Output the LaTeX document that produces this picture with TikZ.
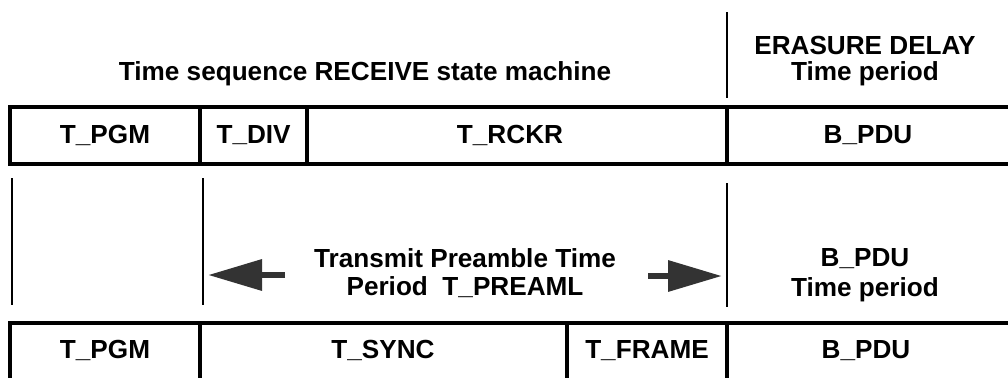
\documentclass[tikz,border=0pt]{standalone}
\usepackage{fontspec}
\setmainfont{Liberation Sans}
\usetikzlibrary{arrows.meta}
\newcommand\usc{\raisebox{0.12ex}{\_}}
\tikzset{
  cell/.style={font=\bfseries\fontsize{18.6}{18.6}\selectfont},
  heading/.style={font=\bfseries\fontsize{18.6}{18}\selectfont, align=center},
  frame/.style={line width=2.6pt},
  marker/.style={line width=1.4pt},
  bigarrow/.style={line width=4.6pt, -{Triangle[length=1.35cm,width=0.75cm]}}
}

\begin{document}
\begin{tikzpicture}
		%%%%% START %%%%%
		\useasboundingbox (0,0) rectangle (25.2,9.425);
		
		% receive row
		\draw[frame] (25.4,6.75) -- (0.25,6.75) -- (0.25,5.325) -- (25.4,5.325);
		\draw[frame] (5,6.75) -- (5,5.325);
		\draw[frame] (7.675,6.75) -- (7.675,5.325);
		\draw[frame] (18.175,6.75) -- (18.175,5.325);
		
		\node[cell] (rpgm) at (2.625,6.04) {T\usc PGM};
		\node[cell] (rdiv) at (6.34,6.04) {T\usc DIV};
		\node[cell] (rckr) at (12.75,6.04) {T\usc RCKR};
		\node[cell] (rpdu) at (21.7,6.04) {B\usc PDU};
		
		% transmit row
		\draw[frame] (25.4,1.35) -- (0.25,1.35) -- (0.25,-0.3);
		\draw[frame] (5,1.35) -- (5,-0.3);
		\draw[frame] (14.175,1.35) -- (14.175,-0.3);
		\draw[frame] (18.175,1.35) -- (18.175,-0.3);
		
		\node[cell] (tpgm) at (2.625,0.66) {T\usc PGM};
		\node[cell] (tsync) at (9.575,0.66) {T\usc SYNC};
		\node[cell] (tframe) at (16.175,0.66) {T\usc FRAME};
		\node[cell] (tpdu) at (21.65,0.66) {B\usc PDU};
		
		% markers
		\draw[marker] (18.175,9.125) -- (18.175,6.975);
		\draw[marker] (0.3,4.975) -- (0.3,1.8);
		\draw[marker] (5.075,4.975) -- (5.075,1.8);
		\draw[marker] (18.175,4.85) -- (18.175,1.75);
		
		\node[heading] (seq) at (9.125,7.575) {Time sequence RECEIVE state machine};
		\node[heading] (erase) at (21.625,7.9) {ERASURE DELAY\\Time period};
		\node[heading] (pre) at (11.625,2.6) {Transmit Preamble Time\\[2pt]Period~~T\usc PREAML};
		\node[heading] (pdu) at (21.625,2.54) {B\usc PDU\\[3pt]Time period};
		
		\coordinate (la) at (7.125,2.55);
		\coordinate (lb) at (5.2,2.55);
		\coordinate (ra) at (16.2,2.525);
		\coordinate (rb) at (18.05,2.525);
		\draw[bigarrow, black!80] (la) -- (lb);
		\draw[bigarrow, black!80] (ra) -- (rb);
		
		%%%%% END %%%%%
\end{tikzpicture}
\end{document}
